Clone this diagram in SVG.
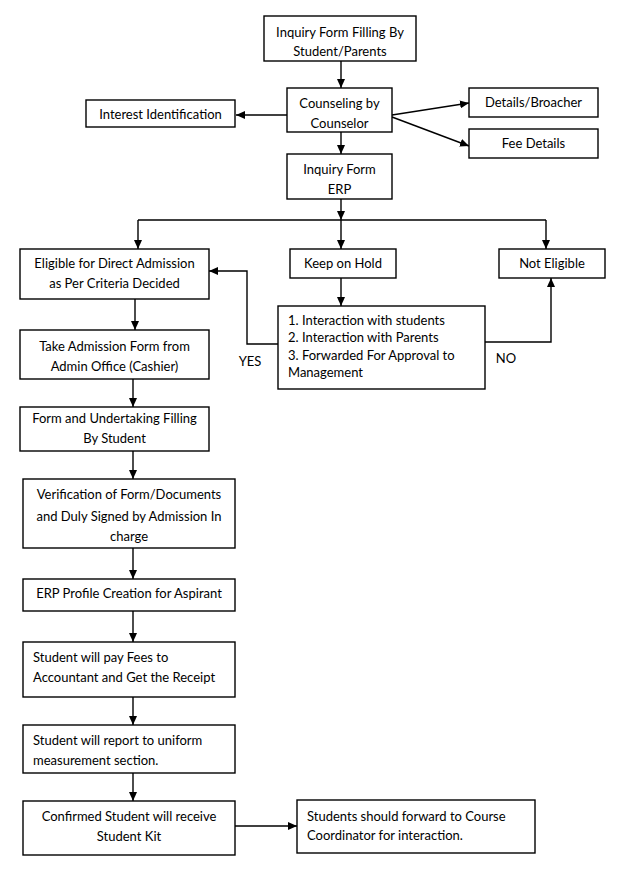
<svg xmlns="http://www.w3.org/2000/svg" width="637" height="871" viewBox="0 0 637 871">
<style>
rect{fill:#fff;stroke:#000;stroke-width:1.4}
text{font-family:Lato,"Liberation Sans",sans-serif;font-size:13px;fill:#000}
.c{text-anchor:middle}
.l{text-anchor:start}
#connectors line,#connectors polyline{fill:none;stroke:#000;stroke-width:1.4}
</style>
<defs>
<marker id="ah" markerUnits="userSpaceOnUse" markerWidth="10" markerHeight="8" refX="9" refY="4" orient="auto">
<path d="M0,0 L9,4 L0,8 Z" fill="#000"/>
</marker>
</defs>
<rect width="637" height="871" style="fill:#fff;stroke:none"/>
<g id="connectors">
<line x1="341" y1="61" x2="341" y2="88" marker-end="url(#ah)"/>
<line x1="287" y1="115" x2="236" y2="115" marker-end="url(#ah)"/>
<line x1="392" y1="115" x2="469" y2="103" marker-end="url(#ah)"/>
<line x1="392" y1="117" x2="469" y2="146" marker-end="url(#ah)"/>
<line x1="341" y1="132" x2="341" y2="154" marker-end="url(#ah)"/>
<line x1="341" y1="199" x2="341" y2="220" marker-end="url(#ah)"/>
<line x1="138" y1="220" x2="546" y2="220"/>
<line x1="138" y1="220" x2="138" y2="249" marker-end="url(#ah)"/>
<line x1="341" y1="220" x2="341" y2="249" marker-end="url(#ah)"/>
<line x1="546" y1="220" x2="546" y2="249" marker-end="url(#ah)"/>
<line x1="341" y1="278" x2="341" y2="306" marker-end="url(#ah)"/>
<polyline points="278,344 247,344 247,271 209,271" marker-end="url(#ah)"/>
<polyline points="485,342 551,342 551,278" marker-end="url(#ah)"/>
<line x1="135" y1="299" x2="135" y2="330" marker-end="url(#ah)"/>
<line x1="133" y1="379" x2="133" y2="407" marker-end="url(#ah)"/>
<line x1="133" y1="451" x2="133" y2="479" marker-end="url(#ah)"/>
<line x1="133" y1="548" x2="133" y2="579" marker-end="url(#ah)"/>
<line x1="133" y1="611" x2="133" y2="642" marker-end="url(#ah)"/>
<line x1="133" y1="697" x2="133" y2="725" marker-end="url(#ah)"/>
<line x1="133" y1="773" x2="133" y2="801" marker-end="url(#ah)"/>
<line x1="235" y1="826" x2="297" y2="826" marker-end="url(#ah)"/>
<text class="c" x="250" y="366">YES</text>
<text class="c" x="506" y="363">NO</text>
</g>
<g id="n-inquiry-filling"><rect x="264" y="16" width="152" height="45"/><text class="c" x="340" y="37">Inquiry Form Filling By</text><text class="c" x="340" y="56">Student/Parents</text></g>
<g id="n-counseling"><rect x="287" y="88" width="105" height="44"/><text class="c" x="339.5" y="107.5">Counseling by</text><text class="c" x="339.5" y="127.5">Counselor</text></g>
<g id="n-interest"><rect x="86" y="100" width="149" height="27"/><text class="c" x="160.5" y="118.5">Interest Identification</text></g>
<g id="n-details"><rect x="469" y="88" width="129" height="29"/><text class="c" x="533.5" y="107">Details/Broacher</text></g>
<g id="n-fee"><rect x="469" y="129" width="129" height="29"/><text class="c" x="533.5" y="148">Fee Details</text></g>
<g id="n-inquiry-erp"><rect x="287" y="154" width="105" height="45"/><text class="c" x="339.5" y="173.5">Inquiry Form</text><text class="c" x="339.5" y="193.5">ERP</text></g>
<g id="n-eligible"><rect x="20" y="249" width="189" height="50"/><text class="c" x="114.5" y="267.5">Eligible for Direct Admission</text><text class="c" x="114.5" y="287.5">as Per Criteria Decided</text></g>
<g id="n-hold"><rect x="290" y="249" width="106" height="29"/><text class="c" x="343" y="267.5">Keep on Hold</text></g>
<g id="n-not-eligible"><rect x="499" y="249" width="106" height="29"/><text class="c" x="552" y="267.5">Not Eligible</text></g>
<g id="n-interaction"><rect x="278" y="306" width="207" height="83"/><text class="l" x="288" y="324.5">1. Interaction with students</text><text class="l" x="288" y="341.5">2. Interaction with Parents</text><text class="l" x="288" y="359.5">3. Forwarded For Approval to</text><text class="l" x="288" y="376.5">Management</text></g>
<g id="n-take-form"><rect x="20" y="330" width="189" height="49"/><text class="c" x="114.5" y="350.5">Take Admission Form from</text><text class="c" x="114.5" y="370.5">Admin Office (Cashier)</text></g>
<g id="n-undertaking"><rect x="20" y="407" width="189" height="44"/><text class="c" x="114.5" y="422.5">Form and Undertaking Filling</text><text class="c" x="114.5" y="442.5">By Student</text></g>
<g id="n-verification"><rect x="23" y="479" width="212" height="69"/><text class="c" x="129" y="498.5">Verification of Form/Documents</text><text class="c" x="129" y="520.5">and Duly Signed by Admission In</text><text class="c" x="129" y="540.5">charge</text></g>
<g id="n-erp-profile"><rect x="23" y="579" width="212" height="32"/><text class="c" x="129" y="597.5">ERP Profile Creation for Aspirant</text></g>
<g id="n-pay-fees"><rect x="23" y="642" width="212" height="55"/><text class="l" x="33" y="661.5">Student will pay Fees to</text><text class="l" x="33" y="681.5">Accountant and Get the Receipt</text></g>
<g id="n-uniform"><rect x="23" y="725" width="212" height="48"/><text class="l" x="33" y="744.5">Student will report to uniform</text><text class="l" x="33" y="764.5">measurement section.</text></g>
<g id="n-kit"><rect x="23" y="801" width="212" height="54"/><text class="c" x="129" y="820.5">Confirmed Student will receive</text><text class="c" x="129" y="840.5">Student Kit</text></g>
<g id="n-coordinator"><rect x="297" y="800" width="238" height="53"/><text class="l" x="307" y="820.5">Students should forward to Course</text><text class="l" x="307" y="839.5">Coordinator for interaction.</text></g>
</svg>
